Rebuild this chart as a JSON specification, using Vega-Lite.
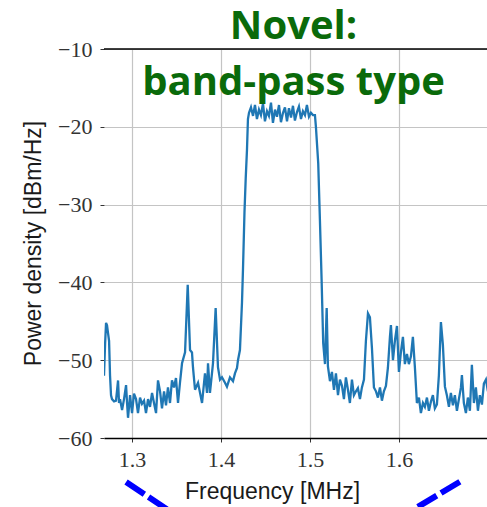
{
  "$schema": "https://vega.github.io/schema/vega-lite/v6.json",
  "width": 383,
  "height": 389,
  "autosize": {"type": "none"},
  "padding": {"left": 104, "top": 49, "right": 0, "bottom": 69},
  "background": "white",
  "config": {"view": {"stroke": null}},
  "title": {
    "text": ["Novel:", "band-pass type"],
    "font": "Open Sans",
    "fontSize": 40,
    "fontWeight": "bold",
    "color": "#0a6a0a",
    "lineHeight": 56,
    "anchor": "middle",
    "frame": "group",
    "baseline": "alphabetic",
    "offset": -97,
    "dx": -2
  },
  "datasets": {
    "spectrum": [
      {"f": 1.2685, "p": -52}, {"f": 1.2697, "p": -48}, {"f": 1.2708, "p": -45.2}, {"f": 1.2719, "p": -45.5},
      {"f": 1.2730, "p": -46.5}, {"f": 1.2742, "p": -47.5}, {"f": 1.2753, "p": -52}, {"f": 1.2764, "p": -54.5},
      {"f": 1.2775, "p": -55}, {"f": 1.2798, "p": -55.3}, {"f": 1.2820, "p": -55.2}, {"f": 1.2843, "p": -52.6},
      {"f": 1.2854, "p": -55.5}, {"f": 1.2865, "p": -55}, {"f": 1.2888, "p": -56.4}, {"f": 1.2910, "p": -55},
      {"f": 1.2933, "p": -53.2}, {"f": 1.2944, "p": -55.5}, {"f": 1.2955, "p": -57.4}, {"f": 1.2978, "p": -54.5},
      {"f": 1.3000, "p": -56.8}, {"f": 1.3022, "p": -54.3}, {"f": 1.3045, "p": -55}, {"f": 1.3067, "p": -56.8},
      {"f": 1.3090, "p": -54.8}, {"f": 1.3112, "p": -55.6}, {"f": 1.3135, "p": -55.2}, {"f": 1.3157, "p": -56.8},
      {"f": 1.3180, "p": -55}, {"f": 1.3202, "p": -56}, {"f": 1.3225, "p": -54.2}, {"f": 1.3247, "p": -55.5},
      {"f": 1.3270, "p": -56.8}, {"f": 1.3292, "p": -52.6}, {"f": 1.3315, "p": -54}, {"f": 1.3337, "p": -56.2},
      {"f": 1.3360, "p": -54}, {"f": 1.3382, "p": -55.8}, {"f": 1.3404, "p": -53.5}, {"f": 1.3427, "p": -55.5},
      {"f": 1.3449, "p": -52.6}, {"f": 1.3472, "p": -53.5}, {"f": 1.3494, "p": -52.3}, {"f": 1.3517, "p": -55.5},
      {"f": 1.3539, "p": -52.9}, {"f": 1.3562, "p": -50.4}, {"f": 1.3596, "p": -49}, {"f": 1.3626, "p": -40.3},
      {"f": 1.3652, "p": -48.7}, {"f": 1.3674, "p": -49}, {"f": 1.3685, "p": -50.9}, {"f": 1.3708, "p": -53.8},
      {"f": 1.3742, "p": -52.9}, {"f": 1.3787, "p": -55.5}, {"f": 1.3820, "p": -51.7}, {"f": 1.3843, "p": -54.2},
      {"f": 1.3854, "p": -50.4}, {"f": 1.3876, "p": -54.2}, {"f": 1.3910, "p": -50.4}, {"f": 1.3940, "p": -43.3},
      {"f": 1.3966, "p": -50.9}, {"f": 1.3989, "p": -52.5}, {"f": 1.4011, "p": -52.2}, {"f": 1.4045, "p": -52.9},
      {"f": 1.4067, "p": -53.4}, {"f": 1.4101, "p": -52.2}, {"f": 1.4135, "p": -52.7}, {"f": 1.4157, "p": -51.7},
      {"f": 1.4180, "p": -51}, {"f": 1.4191, "p": -50}, {"f": 1.4213, "p": -48.7}, {"f": 1.4236, "p": -42.6},
      {"f": 1.4247, "p": -38.4}, {"f": 1.4264, "p": -31}, {"f": 1.4278, "p": -26.6}, {"f": 1.4292, "p": -23},
      {"f": 1.4303, "p": -19}, {"f": 1.4315, "p": -18.2}, {"f": 1.4337, "p": -17.5}, {"f": 1.4360, "p": -18.6},
      {"f": 1.4382, "p": -17.2}, {"f": 1.4404, "p": -19}, {"f": 1.4427, "p": -17.8}, {"f": 1.4449, "p": -18.5},
      {"f": 1.4472, "p": -17}, {"f": 1.4494, "p": -19.3}, {"f": 1.4517, "p": -18}, {"f": 1.4539, "p": -18.6},
      {"f": 1.4562, "p": -16.9}, {"f": 1.4584, "p": -19.5}, {"f": 1.4607, "p": -17.8}, {"f": 1.4629, "p": -18.7},
      {"f": 1.4652, "p": -17.2}, {"f": 1.4674, "p": -19.4}, {"f": 1.4697, "p": -18.2}, {"f": 1.4719, "p": -17.5},
      {"f": 1.4742, "p": -19.3}, {"f": 1.4764, "p": -17.6}, {"f": 1.4787, "p": -18.8}, {"f": 1.4809, "p": -17.3},
      {"f": 1.4831, "p": -19.2}, {"f": 1.4854, "p": -18.1}, {"f": 1.4876, "p": -17.4}, {"f": 1.4899, "p": -19},
      {"f": 1.4921, "p": -18}, {"f": 1.4944, "p": -18.5}, {"f": 1.4966, "p": -17.2}, {"f": 1.4989, "p": -18.7},
      {"f": 1.5011, "p": -18.2}, {"f": 1.5034, "p": -18.5}, {"f": 1.5056, "p": -18.5}, {"f": 1.5067, "p": -20},
      {"f": 1.5093, "p": -24.7}, {"f": 1.5112, "p": -32}, {"f": 1.5131, "p": -39.7}, {"f": 1.5149, "p": -47.8},
      {"f": 1.5169, "p": -50.5}, {"f": 1.5188, "p": -43.3}, {"f": 1.5202, "p": -50.8}, {"f": 1.5225, "p": -52.7},
      {"f": 1.5247, "p": -51.5}, {"f": 1.5270, "p": -53.8}, {"f": 1.5292, "p": -51.7}, {"f": 1.5315, "p": -54.5},
      {"f": 1.5337, "p": -52.5}, {"f": 1.5360, "p": -53.3}, {"f": 1.5382, "p": -55}, {"f": 1.5404, "p": -52.2},
      {"f": 1.5427, "p": -53.8}, {"f": 1.5449, "p": -55.5}, {"f": 1.5472, "p": -52.5}, {"f": 1.5494, "p": -54.5},
      {"f": 1.5517, "p": -54}, {"f": 1.5539, "p": -53.6}, {"f": 1.5562, "p": -55}, {"f": 1.5584, "p": -53.5},
      {"f": 1.5607, "p": -52.5}, {"f": 1.5629, "p": -47.5}, {"f": 1.5652, "p": -44}, {"f": 1.5674, "p": -44.5},
      {"f": 1.5697, "p": -48.5}, {"f": 1.5719, "p": -53.5}, {"f": 1.5742, "p": -54}, {"f": 1.5764, "p": -54.8},
      {"f": 1.5787, "p": -53.5}, {"f": 1.5809, "p": -55.2}, {"f": 1.5831, "p": -54}, {"f": 1.5854, "p": -53.3},
      {"f": 1.5876, "p": -51}, {"f": 1.5899, "p": -47}, {"f": 1.5910, "p": -45.5}, {"f": 1.5933, "p": -50},
      {"f": 1.5955, "p": -47.5}, {"f": 1.5978, "p": -45.6}, {"f": 1.6000, "p": -51.5}, {"f": 1.6022, "p": -49},
      {"f": 1.6045, "p": -47}, {"f": 1.6067, "p": -50.5}, {"f": 1.6090, "p": -49.2}, {"f": 1.6112, "p": -50.5},
      {"f": 1.6135, "p": -49.5}, {"f": 1.6157, "p": -47}, {"f": 1.6180, "p": -51}, {"f": 1.6202, "p": -55.5},
      {"f": 1.6225, "p": -54.8}, {"f": 1.6247, "p": -56.8}, {"f": 1.6270, "p": -55.5}, {"f": 1.6292, "p": -56},
      {"f": 1.6315, "p": -54.8}, {"f": 1.6337, "p": -56.5}, {"f": 1.6360, "p": -55.3}, {"f": 1.6382, "p": -54.5},
      {"f": 1.6404, "p": -56.2}, {"f": 1.6427, "p": -55.7}, {"f": 1.6449, "p": -52}, {"f": 1.6472, "p": -45.1},
      {"f": 1.6494, "p": -48}, {"f": 1.6517, "p": -53.4}, {"f": 1.6539, "p": -54.5}, {"f": 1.6562, "p": -56},
      {"f": 1.6584, "p": -54.2}, {"f": 1.6607, "p": -55.8}, {"f": 1.6629, "p": -54.5}, {"f": 1.6652, "p": -56.5},
      {"f": 1.6674, "p": -55}, {"f": 1.6697, "p": -53.5}, {"f": 1.6708, "p": -51.9}, {"f": 1.6730, "p": -55.5},
      {"f": 1.6753, "p": -56.8}, {"f": 1.6775, "p": -54.8}, {"f": 1.6798, "p": -56.5}, {"f": 1.6820, "p": -50.6},
      {"f": 1.6843, "p": -55.5}, {"f": 1.6865, "p": -53.5}, {"f": 1.6888, "p": -56.5}, {"f": 1.6910, "p": -54.5},
      {"f": 1.6933, "p": -55.7}, {"f": 1.6955, "p": -53}, {"f": 1.6978, "p": -52.5}, {"f": 1.7000, "p": -54}
    ],
    "deco": [
      {"seg": "a", "f": 1.2933, "p": -65.66}, {"seg": "a", "f": 1.3438, "p": -69.51},
      {"seg": "b", "f": 1.6685, "p": -65.62}, {"seg": "b", "f": 1.6118, "p": -69.51}
    ],
    "frame": [{"p": -10}]
  },
  "layer": [
    {
      "data": {"name": "spectrum"},
      "mark": {"type": "line", "color": "#1f77b4", "strokeWidth": 2.3, "clip": true},
      "encoding": {
        "x": {
          "field": "f", "type": "quantitative",
          "scale": {"domain": [1.2685, 1.699], "nice": false, "zero": false},
          "axis": {
            "values": [1.3, 1.4, 1.5, 1.6, 1.7],
            "format": ".1f",
            "title": "Frequency [MHz]",
            "titleFont": "Liberation Sans",
            "titleFontSize": 23,
            "titleFontWeight": "normal",
            "titleColor": "#1a1a1a",
            "titleX": 168,
            "titleY": 60,
            "titleAlign": "center",
            "titleBaseline": "alphabetic",
            "labelFont": "Liberation Serif",
            "labelFontSize": 22,
            "labelColor": "#333333",
            "labelPadding": 7,
            "labelOverlap": false,
            "labelBound": false,
            "labelFlush": false,
            "tickSize": 4,
            "tickColor": "#333333",
            "domainColor": "#000000",
            "domainWidth": 1.5,
            "gridColor": "#c4c4c4",
            "gridWidth": 1.2
          }
        },
        "y": {
          "field": "p", "type": "quantitative",
          "scale": {"domain": [-60, -10], "nice": false, "zero": false},
          "axis": {
            "values": [-60, -50, -40, -30, -20, -10],
            "title": "Power density [dBm/Hz]",
            "titleFont": "Liberation Sans",
            "titleFontSize": 23,
            "titleFontWeight": "normal",
            "titleColor": "#1a1a1a",
            "titleX": -71,
            "titleY": 194,
            "titleAngle": -90,
            "titleAlign": "center",
            "titleBaseline": "middle",
            "labelFont": "Liberation Serif",
            "labelFontSize": 22,
            "labelColor": "#333333",
            "labelPadding": 8,
            "tickSize": 4,
            "tickColor": "#333333",
            "domain": false,
            "gridColor": "#c4c4c4",
            "gridWidth": 1.2
          }
        }
      }
    },
    {
      "data": {"name": "frame"},
      "mark": {"type": "rule", "color": "#000000", "strokeWidth": 1.5},
      "encoding": {"y": {"field": "p", "type": "quantitative"}}
    },
    {
      "data": {"name": "deco"},
      "mark": {"type": "line", "color": "#0000ff", "strokeWidth": 6, "strokeDash": [22, 5], "clip": false},
      "encoding": {
        "x": {"field": "f", "type": "quantitative"},
        "y": {"field": "p", "type": "quantitative"},
        "detail": {"field": "seg", "type": "nominal"},
        "order": {"field": "p", "type": "quantitative", "sort": "descending"}
      }
    }
  ]
}
